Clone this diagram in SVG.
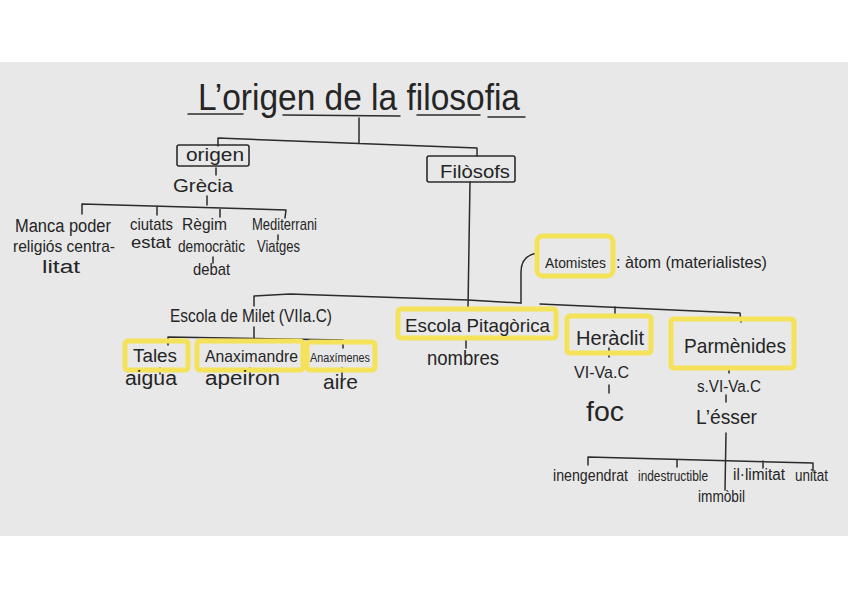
<svg xmlns="http://www.w3.org/2000/svg" width="848" height="599" viewBox="0 0 848 599">
<style>
text{font-family:"Liberation Sans",Arial,sans-serif;fill:#252525}
.ln{fill:none;stroke:#2b2b2b;stroke-width:1.5;stroke-linecap:round;stroke-linejoin:round}
.hl{fill:none;stroke:#f3e25a;stroke-width:5;stroke-linejoin:round}
.bx{fill:none;stroke:#2b2b2b;stroke-width:1.6;stroke-linejoin:round}
</style>
<rect x="0" y="0" width="848" height="599" fill="#ffffff"/>
<rect x="0" y="62" width="848" height="474" fill="#e8e8e8"/>

<g id="connectors">
  <path class="ln" d="M188,114 L243,114 M283,115 L400,116 M417,115 L480,115 M488,117 L525,117"/>
  <path class="ln" d="M359,118 L359,143 M218,146 L218,138 L477,148 L477,156"/>
  <path class="ln" d="M216,168 L216,175 M207,196 L207,205"/>
  <path class="ln" d="M82,214 L82,204 L286,210 L285,218 M157,206 L157,215 M220,208 L220,217"/>
  <path class="ln" d="M213,257 L213,263 M278,235 L278,240"/>
  <path class="ln" d="M470,182 L468,308"/>
  <path class="ln" d="M537,253 C526,255 521,261 521,272 L521,303"/>
  <path class="ln" d="M254,306 L254,296 L290,294 L468,300 L521,303 M540,304 L740,313 L741,322"/>
  <path class="ln" d="M254,327 L254,340 M615,307 L615,315"/>
  <path class="ln" d="M168,345 L168,337 L343,340 L343,348"/>
  <path class="ln" d="M160,368 L160,374 M250,368 L250,375 M342,368 L342,378"/>
  <path class="ln" d="M466,340 L466,348 M609,348 L609,357 M609,385 L609,393"/>
  <path class="ln" d="M729,367 L729,373 M726,395 L726,402 M726,433 L725,490"/>
  <path class="ln" d="M588,465 L588,457 L813,463 L813,471 M677,460 L677,467 M763,461 L763,468"/>
</g>

<g id="title"><text x="198" y="110" font-size="36" textLength="322" lengthAdjust="spacingAndGlyphs">L’origen de la filosofia</text></g>

<g id="origen">
  <rect class="bx" x="177" y="145" width="72" height="21" rx="2"/>
  <text x="186" y="161" font-size="18" textLength="58" lengthAdjust="spacingAndGlyphs">origen</text>
</g>
<g id="grecia"><text x="173" y="192" font-size="19" textLength="60" lengthAdjust="spacingAndGlyphs">Grècia</text></g>
<g id="manca">
  <text x="15" y="232" font-size="18" textLength="96" lengthAdjust="spacingAndGlyphs">Manca poder</text>
  <text x="13" y="252" font-size="17" textLength="102" lengthAdjust="spacingAndGlyphs">religiós centra-</text>
  <text x="42" y="273" font-size="18" textLength="38" lengthAdjust="spacingAndGlyphs">litat</text>
</g>
<g id="ciutats">
  <text x="130" y="230" font-size="17" textLength="43" lengthAdjust="spacingAndGlyphs">ciutats</text>
  <text x="131" y="248" font-size="17" textLength="40" lengthAdjust="spacingAndGlyphs">estat</text>
</g>
<g id="regim">
  <text x="182" y="230" font-size="17" textLength="45" lengthAdjust="spacingAndGlyphs">Règim</text>
  <text x="178" y="252" font-size="17" textLength="67" lengthAdjust="spacingAndGlyphs">democràtic</text>
  <text x="193" y="275" font-size="17" textLength="37" lengthAdjust="spacingAndGlyphs">debat</text>
</g>
<g id="mediterrani">
  <text x="252" y="230" font-size="17" textLength="65" lengthAdjust="spacingAndGlyphs">Mediterrani</text>
  <text x="257" y="252" font-size="17" textLength="43" lengthAdjust="spacingAndGlyphs">Viatges</text>
</g>

<g id="filosofs">
  <rect class="bx" x="427" y="156" width="88" height="26" rx="2"/>
  <text x="440" y="178" font-size="19" textLength="70" lengthAdjust="spacingAndGlyphs">Filòsofs</text>
</g>

<g id="atomistes">
  <rect class="hl" x="537" y="236" width="76" height="40" rx="6"/>
  <text x="545" y="268" font-size="14.5" textLength="61" lengthAdjust="spacingAndGlyphs">Atomistes</text>
  <text x="616" y="268" font-size="17" textLength="151" lengthAdjust="spacingAndGlyphs">: àtom (materialistes)</text>
</g>

<g id="milet"><text x="170" y="322" font-size="18" textLength="162" lengthAdjust="spacingAndGlyphs">Escola de Milet (VIIa.C)</text></g>
<g id="tales">
  <rect class="hl" x="125" y="341" width="63" height="29" rx="3"/>
  <text x="133" y="362" font-size="18" textLength="44" lengthAdjust="spacingAndGlyphs">Tales</text>
  <text x="125" y="385" font-size="20" textLength="52" lengthAdjust="spacingAndGlyphs">aigua</text>
</g>
<g id="anaximandre">
  <rect class="hl" x="197" y="341" width="106" height="29" rx="3"/>
  <text x="205" y="362" font-size="17" textLength="93" lengthAdjust="spacingAndGlyphs">Anaximandre</text>
  <text x="205" y="385" font-size="20" textLength="75" lengthAdjust="spacingAndGlyphs">apeiron</text>
</g>
<g id="anaximenes">
  <rect class="hl" x="307" y="342" width="68" height="28" rx="3"/>
  <text x="310" y="362" font-size="12" textLength="60" lengthAdjust="spacingAndGlyphs">Anaxímenes</text>
  <text x="323" y="389" font-size="21" textLength="35" lengthAdjust="spacingAndGlyphs">aire</text>
</g>

<g id="pitagorica">
  <rect class="hl" x="398" y="309" width="158" height="29" rx="3"/>
  <text x="405" y="332" font-size="19" textLength="145" lengthAdjust="spacingAndGlyphs">Escola Pitagòrica</text>
  <text x="427" y="365" font-size="20" textLength="72" lengthAdjust="spacingAndGlyphs">nombres</text>
</g>

<g id="heraclit">
  <rect class="hl" x="567" y="316" width="84" height="37" rx="3"/>
  <text x="576" y="345" font-size="20" textLength="68" lengthAdjust="spacingAndGlyphs">Heràclit</text>
  <text x="574" y="378" font-size="17" textLength="55" lengthAdjust="spacingAndGlyphs">VI-Va.C</text>
  <text x="586" y="421" font-size="28" textLength="38" lengthAdjust="spacingAndGlyphs">foc</text>
</g>

<g id="parmenides">
  <rect class="hl" x="671" y="319" width="123" height="49" rx="3"/>
  <text x="684" y="353" font-size="21" textLength="102" lengthAdjust="spacingAndGlyphs">Parmènides</text>
  <text x="697" y="392" font-size="16" textLength="64" lengthAdjust="spacingAndGlyphs">s.VI-Va.C</text>
  <text x="696" y="424" font-size="20" textLength="61" lengthAdjust="spacingAndGlyphs">L’ésser</text>
</g>

<g id="inengendrat"><text x="553" y="481" font-size="16" textLength="75" lengthAdjust="spacingAndGlyphs">inengendrat</text></g>
<g id="indestructible"><text x="638" y="481" font-size="14" textLength="70" lengthAdjust="spacingAndGlyphs">indestructible</text></g>
<g id="immobil"><text x="698" y="502" font-size="16" textLength="47" lengthAdjust="spacingAndGlyphs">immòbil</text></g>
<g id="illimitat"><text x="733" y="480" font-size="16" textLength="52" lengthAdjust="spacingAndGlyphs">il·limitat</text></g>
<g id="unitat"><text x="795" y="481" font-size="16" textLength="33" lengthAdjust="spacingAndGlyphs">unitat</text></g>
</svg>
